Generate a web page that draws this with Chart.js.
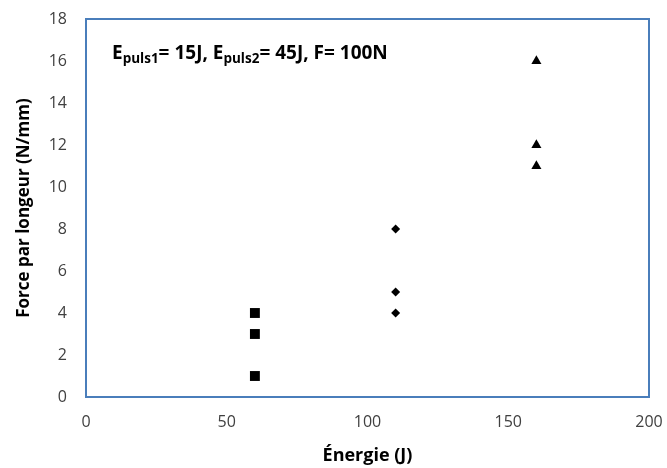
<!DOCTYPE html>
<html>
<head>
<meta charset="utf-8">
<script src="https://cdn.jsdelivr.net/npm/chart.js@4/dist/chart.umd.min.js"></script>
<style>
  html, body { margin: 0; padding: 0; background: #fff; }
  #wrap { width: 667px; height: 468px; position: relative; }
</style>
</head>
<body>
<div id="wrap"><canvas id="forceChart"></canvas></div>
<script>
// energy (J) for each group
const energySquares = [60, 60, 60];
const forceSquares = [4, 3, 1];
const energyDiamonds = [110, 110, 110];
const forceDiamonds = [8, 5, 4];
const energyTriangles = [160, 160, 160];
const forceTriangles = [16, 12, 11];

const xTicks = [0, 50, 100, 150, 200];
const yTicks = [0, 2, 4, 6, 8, 10, 12, 14, 16, 18];

const axisTitleX = "Énergie (J)";
const axisTitleY = "Force par longeur (N/mm)";
// annotation pieces: [text, isSubscript]
const noteParts = [
  ["E", false], ["puls1", true], ["= 15J, E", false], ["puls2", true], ["= 45J, F= 100N", false]
];

const FONT = "'Open Sans', 'Liberation Sans', sans-serif";

function toPoints(xs, ys) {
  return xs.map((x, i) => ({ x, y: ys[i] }));
}

function series(label, xs, ys, style, radius) {
  return {
    label,
    data: toPoints(xs, ys),
    pointStyle: style,
    pointRadius: radius,
    pointHoverRadius: radius,
    backgroundColor: "#000",
    borderColor: "#000",
    borderWidth: 0,
    showLine: false,
  };
}

const frameAndNote = {
  id: "frameAndNote",
  afterDatasetsDraw(chart) {
    const { ctx, chartArea: a } = chart;
    ctx.save();
    ctx.strokeStyle = "#4a7ebb";
    ctx.lineWidth = 2;
    ctx.strokeRect(a.left, a.top, a.right - a.left, a.bottom - a.top);

    let x = a.left + 26;
    const base = a.top + 40;
    ctx.fillStyle = "#000";
    ctx.textBaseline = "alphabetic";
    for (const [txt, sub] of noteParts) {
      ctx.font = sub ? "bold 13.5px " + FONT : "bold 19px " + FONT;
      ctx.fillText(txt, x, sub ? base + 4 : base);
      x += ctx.measureText(txt).width;
    }
    ctx.restore();
  },
};

new Chart(document.getElementById("forceChart"), {
  type: "scatter",
  data: {
    datasets: [
      series("carrés", energySquares, forceSquares, "rect", 7),
      series("losanges", energyDiamonds, forceDiamonds, "rectRot", 4.5),
      series("triangles", energyTriangles, forceTriangles, "triangle", 5.8),
    ],
  },
  options: {
    responsive: true,
    maintainAspectRatio: false,
    animation: false,
    layout: { padding: { left: 0, top: 19, right: 18, bottom: 0 } },
    plugins: {
      legend: { display: false },
      tooltip: { enabled: false },
    },
    scales: {
      x: {
        type: "linear",
        min: 0,
        max: 200,
        afterBuildTicks: (s) => { s.ticks = xTicks.map((v) => ({ value: v })); },
        afterFit: (s) => { s.height = 71; s.paddingLeft = 0; s.paddingRight = 0; },
        grid: { display: false, drawTicks: false },
        border: { display: false },
        ticks: { color: "#404040", padding: 16, font: { family: FONT, size: 16 } },
        title: {
          display: true,
          text: axisTitleX,
          color: "#000",
          font: { family: FONT, size: 18, weight: "bold" },
          padding: { top: 0, bottom: 1 },
        },
      },
      y: {
        type: "linear",
        min: 0,
        max: 18,
        afterBuildTicks: (s) => { s.ticks = yTicks.map((v) => ({ value: v })); },
        afterFit: (s) => { s.width = 86; s.paddingTop = 0; s.paddingBottom = 0; },
        grid: { display: false, drawTicks: false },
        border: { display: false },
        ticks: { color: "#404040", padding: 19, font: { family: FONT, size: 16 } },
        title: {
          display: true,
          text: axisTitleY,
          color: "#000",
          font: { family: FONT, size: 17, weight: "bold" },
          padding: { top: 14, bottom: 0 },
        },
      },
    },
  },
  plugins: [frameAndNote],
});
</script>
</body>
</html>
